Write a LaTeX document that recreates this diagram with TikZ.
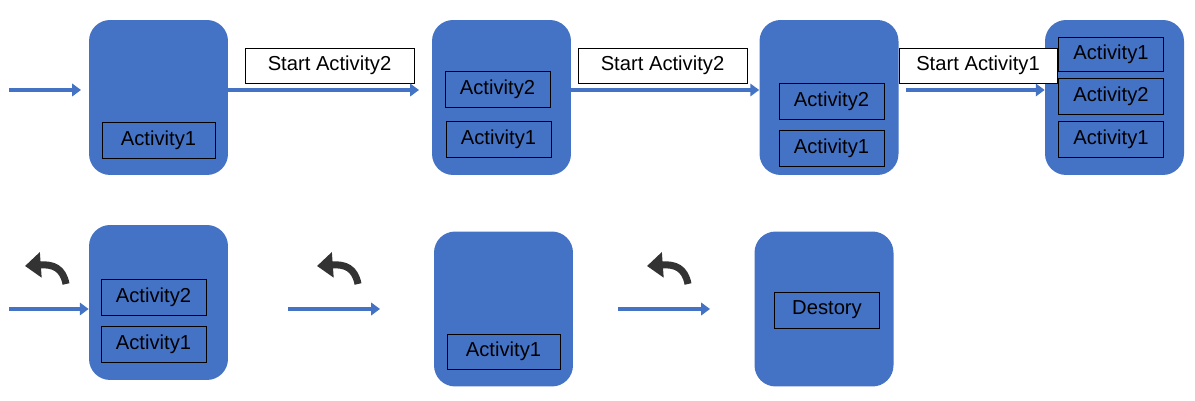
\documentclass[tikz,border=0pt]{standalone}
\usepackage{fontspec}
\setmainfont{Liberation Sans}
\usetikzlibrary{arrows.meta}
\definecolor{stackblue}{HTML}{4472C4}
\tikzset{
  stack/.style={fill=stackblue, draw=none, rounded corners=12pt, minimum width=2.78cm, minimum height=3.1cm},
  act/.style={fill=stackblue, draw=black, minimum width=2.1cm, minimum height=0.72cm, inner sep=0pt, font=\fontsize{11.5}{13}\selectfont},
  lbl/.style={fill=white, draw=black, minimum width=3.38cm, minimum height=0.7cm, inner sep=0pt, font=\fontsize{11.5}{13}\selectfont},
  flow/.style={draw=stackblue, line width=2.2pt, -{Triangle[length=5pt,width=7pt]}},
  back/.style={line width=4pt, draw=black!80, -{Triangle[length=9pt,width=14pt]}}
}
\begin{document}
\begin{tikzpicture}[x=0.02cm,y=-0.02cm]
    \useasboundingbox (0,0) rectangle (1195,401);

    % Stacks, upper row
    \node[stack] (s1) at (158.5,97.5) {};
    \node[stack] (s2) at (501.5,97.5) {};
    \node[stack] (s3) at (829,97.5) {};
    \node[stack] (s4) at (1114.5,97.5) {};
    % Stacks, lower row
    \node[stack] (s5) at (158.5,302.5) {};
    \node[stack] (s6) at (503.5,309) {};
    \node[stack] (s7) at (824,309) {};

    % Activities
    \node[act, minimum width=2.26cm] (a11) at (158.5,140) {Activity1};
    \node[act] (a22) at (497.5,89) {Activity2};
    \node[act] (a21) at (498.5,139.5) {Activity1};
    \node[act] (a32) at (831.5,101) {Activity2};
    \node[act] (a31) at (831.5,148) {Activity1};
    \node[act, minimum height=0.68cm] (a43) at (1111,54) {Activity1};
    \node[act] (a42) at (1111,96) {Activity2};
    \node[act] (a41) at (1111,139.5) {Activity1};
    \node[act] (a52) at (153.5,297) {Activity2};
    \node[act] (a51) at (153.5,344) {Activity1};
    \node[act, minimum width=2.26cm, minimum height=0.7cm] (a61) at (503.5,351.5) {Activity1};
    \node[act] (a7) at (827,310) {Destory};

    % Labels
    \node[lbl] (l1) at (329.5,65.5) {Start Activity2};
    \node[lbl] (l2) at (662.5,65.5) {Start Activity2};
    \node[lbl, minimum width=3.16cm] (l3) at (978,65.5) {Start Activity1};

    % Flow arrows
    \coordinate (p0) at (9,90);
    \coordinate (q0) at (9,309);
    \coordinate (q1) at (288,309);
    \coordinate (q2) at (618,309);
    \draw[flow] (p0) -- (81,90);
    \draw[flow] (s1.east |- p0) -- (419,90);
    \draw[flow] (s2.east |- p0) -- (s3.west |- p0);
    \draw[flow] (906,90) -- (s4.west |- p0);
    \draw[flow] (q0) -- (s5.west |- q0);
    \draw[flow] (q1) -- (380,309);
    \draw[flow] (q2) -- (710,309);

    % Back icons
    \foreach \x in {45,337,667}
      \draw[back] (\x+21,284) .. controls (\x+18,268) and (\x+8,264) .. (\x-20,266);
\end{tikzpicture}
\end{document}
